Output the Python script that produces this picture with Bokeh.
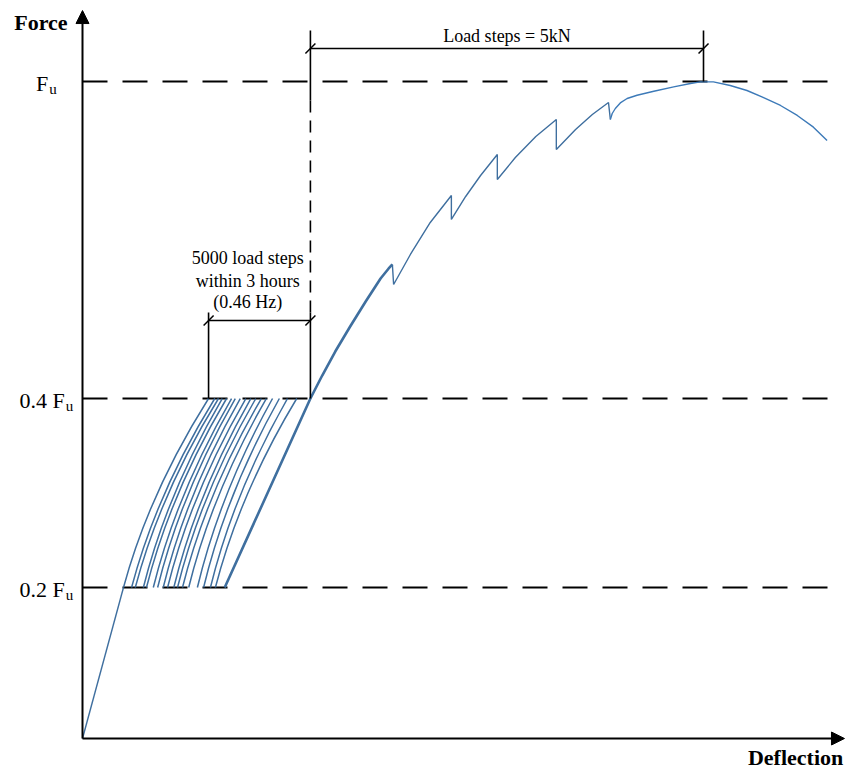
import numpy as np
from bokeh.plotting import figure
from bokeh.models import Range1d, Arrow, NormalHead, ColumnDataSource
from bokeh.core.properties import value
from bokeh.embed import file_html
from bokeh.resources import INLINE

# ---------------- data (schematic units: deflection [-], force level with Fu = 1) -------------
level_pos = [0.2298, 0.5175, 1.0]            # schematic positions of 0.2 Fu, 0.4 Fu, Fu
level_main = ["0.2 F", "0.4 F", "F"]
level_sub = ["u", "u", "u"]

# initial loading up to 0.2 Fu
initial_x = [0.0, 0.66]
initial_y = [0.0, 0.2298]

# cyclic load steps between 0.2 Fu and 0.4 Fu (deflection at lower / upper level)
loop_x_low = [0.66, 0.79, 0.85, 0.98, 1.03, 1.14, 1.21, 1.30, 1.37, 1.47, 1.53, 1.61, 1.71,
              1.85, 1.95, 2.06, 2.14]
loop_x_high = [2.03, 2.13, 2.19, 2.25, 2.32, 2.40, 2.46, 2.54, 2.63, 2.71, 2.79, 2.88, 2.96,
               3.06, 3.17, 3.30, 3.45]

# final reloading and first load step
env_thick_x = [2.29, 3.67, 3.86, 4.07, 4.31, 4.56, 4.80, 4.93, 4.99]
env_thick_y = [0.2298, 0.5175, 0.5525, 0.5890, 0.6271, 0.6651, 0.7002, 0.7154, 0.7215]
# further load steps with force drops
env_thin_x = [4.99, 5.01, 5.28, 5.60, 5.94, 5.94, 6.17, 6.41, 6.68, 6.68, 6.97, 7.30, 7.63,
              7.63, 7.94, 8.21, 8.47, 8.50]
env_thin_y = [0.7215, 0.691, 0.7367, 0.7854, 0.8265, 0.79, 0.825, 0.8569, 0.8889, 0.8508,
              0.8843, 0.9163, 0.9422, 0.8965, 0.9269, 0.9498, 0.968, 0.9422]
# last load step, ultimate load and softening
env_post_x = [8.50, 8.53, 8.58, 8.66, 8.77, 8.93, 9.20, 9.52, 9.79, 9.95, 10.16, 10.43, 10.70,
              10.95, 11.24, 11.51, 11.77, 11.99]
env_post_y = [0.9422, 0.9513, 0.9589, 0.9674, 0.9741, 0.9791, 0.9852, 0.9918, 0.9970, 0.9995,
              0.9995, 0.9939, 0.9863, 0.9761, 0.9635, 0.9483, 0.9305, 0.9102]

# annotation anchors
x_cyc_start, x_cyc_end = 2.03, 3.67      # "5000 load steps" dimension
x_step_start, x_step_end = 3.67, 10.0    # "Load steps = 5kN" dimension
dim_small_y = 0.6362
dim_big_y = 1.0502
small_text = ["5000 load steps", "within 3 hours", "(0.46 Hz)"]
small_text_y = [0.7306, 0.6971, 0.6651]
big_text = "Load steps = 5kN"

# ---------------- figure ----------------
p = figure(width=845, height=769, x_range=Range1d(-1.3205, 12.2866),
           y_range=Range1d(-0.04718, 1.12329),
           output_backend="svg", toolbar_location=None, min_border=0,
           x_axis_location=None, y_axis_location=None)
p.grid.visible = False
p.outline_line_color = None
p.background_fill_color = "white"
p.border_fill_color = "white"

SERIF = value("Liberation Serif")
BLUE = "#3f6f9f"
BLUE2 = "#3d7ab8"

# dashed force levels
x_dash_end = 12.17
p.segment(x0=[0.0] * 3, y0=level_pos, x1=[x_dash_end] * 3, y1=level_pos,
          line_color="black", line_width=2, line_dash="25 15")

# curves
p.line(initial_x, initial_y, line_color=BLUE, line_width=1.4)
lx0 = np.array(loop_x_low)
lx1 = np.array(loop_x_high)
y0, y1 = level_pos[0], level_pos[1]
p.quadratic(x0=lx0, y0=[y0] * len(lx0), x1=lx1, y1=[y1] * len(lx1),
            cx=lx0 + 0.3 * (lx1 - lx0), cy=[(y0 + y1) / 2] * len(lx0),
            line_color=BLUE, line_width=1.5)
p.line(env_thick_x, env_thick_y, line_color=BLUE, line_width=2.6, line_join="round")
p.line(env_thin_x, env_thin_y, line_color=BLUE, line_width=1.4)
p.line(env_post_x, env_post_y, line_color=BLUE2, line_width=1.4, line_join="round")

# extension lines
ext_top = 1.0776
ext_mid = 0.9711
ext_small_top = 0.6484
p.segment(x0=[x_step_start, x_step_end, x_cyc_start, x_cyc_end],
          y0=[ext_top, ext_top, ext_small_top, ext_small_top],
          x1=[x_step_start, x_step_end, x_cyc_start, x_cyc_end],
          y1=[ext_mid, level_pos[2], level_pos[1], level_pos[1]],
          line_color="black", line_width=1.6)
p.segment(x0=[x_cyc_end], y0=[ext_mid], x1=[x_cyc_end], y1=[ext_small_top],
          line_color="black", line_width=1.6, line_dash="12 8")

# dimension lines
p.segment(x0=[x_step_start, x_cyc_start], y0=[dim_big_y, dim_small_y],
          x1=[x_step_end, x_cyc_end], y1=[dim_big_y, dim_small_y],
          line_color="black", line_width=1.5)
ddx, ddy = 5 / 62.1, 5 / 657
sx = np.array([x_step_start, x_step_end, x_cyc_start, x_cyc_end])
sy = np.array([dim_big_y, dim_big_y, dim_small_y, dim_small_y])
p.segment(x0=sx - ddx, y0=sy - ddy, x1=sx + ddx, y1=sy + ddy, line_color="black", line_width=1.5)

p.text(x=[(x_step_start + x_step_end) / 2], y=[1.070], text=[big_text], text_font=SERIF,
       text_font_size="18px", text_align="center", text_baseline="middle", text_color="black")
p.text(x=[2.66] * 3, y=small_text_y, text=small_text, text_font=SERIF,
       text_font_size="18px", text_align="center", text_baseline="middle", text_color="black")

# axes with arrows
head = dict(size=13, fill_color="black", line_color="black")
p.add_layout(Arrow(end=NormalHead(**head), x_start=0, y_start=0, x_end=0, y_end=1.108,
                   line_color="black", line_width=2))
p.add_layout(Arrow(end=NormalHead(**head), x_start=0, y_start=0, x_end=12.27, y_end=0,
                   line_color="black", line_width=2))

p.text(x=[-0.24], y=[1.0898], text=["Force"], text_font=SERIF, text_font_size="22px",
       text_font_style="bold", text_align="right", text_baseline="middle", text_color="black")
p.text(x=[12.25], y=[-0.0289], text=["Deflection"], text_font=SERIF, text_font_size="22px",
       text_font_style="bold", text_align="right", text_baseline="middle", text_color="black")

# level labels with subscript u
CW = {'0': 0.5, '.': 0.25, '2': 0.5, '4': 0.5, ' ': 0.25, 'F': 0.556, 'u': 0.5}
MAIN_FS, SUB_FS = 22, 15
main_w = [sum(CW[c] for c in s) * MAIN_FS for s in level_main]
sub_w = [sum(CW[c] for c in s) * SUB_FS for s in level_sub]
tot = [m + 1 + s for m, s in zip(main_w, sub_w)]
label_cx = -0.58
src_main = ColumnDataSource(dict(x=[label_cx] * 3, y=level_pos, text=level_main,
                                 xo=[-t / 2 for t in tot]))
src_sub = ColumnDataSource(dict(x=[label_cx] * 3, y=level_pos, text=level_sub,
                                xo=[-t / 2 + m + 1 for t, m in zip(tot, main_w)]))
p.text(x="x", y="y", text="text", x_offset="xo", y_offset=2, source=src_main, text_font=SERIF,
       text_font_size=f"{MAIN_FS}px", text_align="left", text_baseline="middle", text_color="black")
p.text(x="x", y="y", text="text", x_offset="xo", y_offset=7, source=src_sub, text_font=SERIF,
       text_font_size=f"{SUB_FS}px", text_align="left", text_baseline="middle", text_color="black")

open("out.html", "w").write(file_html(p, INLINE))
